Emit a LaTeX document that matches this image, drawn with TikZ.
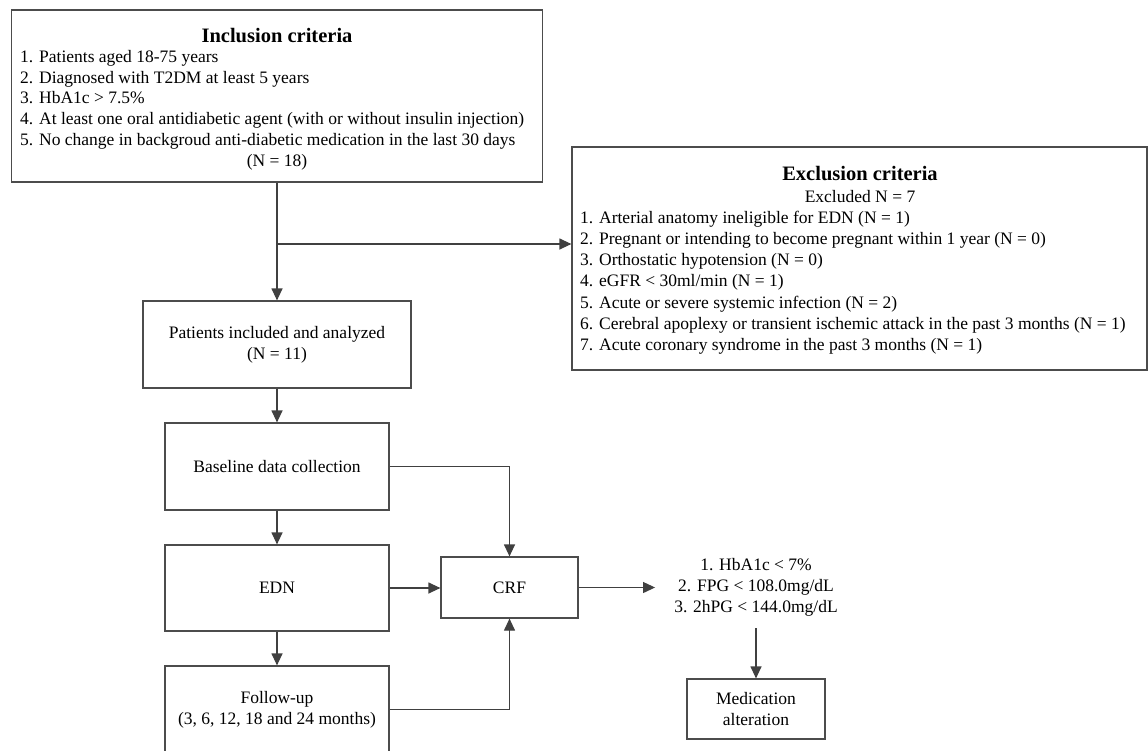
\documentclass[tikz,border=0pt]{standalone}
\usepackage{fontspec}
\setmainfont{Liberation Serif}
\usetikzlibrary{arrows.meta}

\tikzset{
  box/.style={draw=black!70, line width=1.2pt, align=center, inner sep=2pt},
  boxtitle/.style={anchor=base, font=\fontsize{20.5}{24}\selectfont\bfseries},
  item/.style={anchor=base west, inner sep=0pt},
  arr/.style={draw=black!75, line width=1.2pt, -{Triangle[length=12pt,width=11pt]}},
}

\begin{document}
\begin{tikzpicture}[x=1pt,y=-1pt,font=\fontsize{17.5}{21}\selectfont]
\useasboundingbox (0,0) rectangle (1148,750);

\node[box,minimum width=531,minimum height=172] (incl) at (277,96) {};
\node[boxtitle] (incltitle) at (277,42) {Inclusion criteria};
\foreach \t [count=\i] in {1. Patients aged 18-75 years,
  2. Diagnosed with T2DM at least 5 years,
  3. HbA1c > 7.5\%,
  4. At least one oral antidiabetic agent (with or without insulin injection),
  5. No change in backgroud anti-diabetic medication in the last 30 days}
  \node[item] (inc\i) at (20,42+20.6*\i) {\t};
\node[anchor=base,inner sep=0pt] (incln) at (277,166) {(N = 18)};

\node[box,minimum width=575,minimum height=223] (excl) at (859.5,258.5) {};
\node[boxtitle] (excltitle) at (860,180) {Exclusion criteria};
\node[anchor=base,inner sep=0pt] (excln) at (860,202) {Excluded N = 7};
\foreach \t [count=\i] in {1. Arterial anatomy ineligible for EDN (N = 1),
  2. Pregnant or intending to become pregnant within 1 year (N = 0),
  3. Orthostatic hypotension (N = 0),
  4. eGFR < 30ml/min (N = 1),
  5. Acute or severe systemic infection (N = 2),
  6. Cerebral apoplexy or transient ischemic attack in the past 3 months (N = 1),
  7. Acute coronary syndrome in the past 3 months (N = 1)}
  \node[item] (exc\i) at (580,202+21.2*\i) {\t};

\node[box,minimum width=268,minimum height=87] (pat) at (277,344.5) {Patients included and analyzed\\(N = 11)};
\node[box,minimum width=224,minimum height=87] (base) at (277,466.5) {Baseline data collection};
\node[box,minimum width=224,minimum height=86] (edn) at (277,588) {EDN};
\node[box,minimum width=224,minimum height=87] (fu) at (277,709.5) {Follow-up\\(3, 6, 12, 18 and 24 months)};
\node[box,minimum width=137,minimum height=61] (crf) at (509.5,587.5) {CRF};
\node[align=center,inner xsep=19pt,inner ysep=12pt] (crit) at (756,587) {1. HbA1c < 7\%\\2. FPG < 108.0mg/dL\\3. 2hPG < 144.0mg/dL};
\node[box,minimum width=138,minimum height=60] (med) at (756,709) {Medication\\alteration};

\coordinate (br) at (277,244);
\draw[arr] (incl.south) -- (pat.north);
\draw[arr] (br) -- (br -| excl.west);
\draw[arr] (pat) -- (base);
\draw[arr] (base) -- (edn);
\draw[arr] (edn) -- (fu);
\draw[arr] (base.east) -| (crf.north);
\draw[arr] (edn.east) -- (edn.east -| crf.west);
\draw[arr] (fu.east) -| (crf.south);
\draw[arr] (crf.east) -- (crf.east -| crit.west);
\draw[arr] (crit.south) -- (med.north);
\end{tikzpicture}
\end{document}
